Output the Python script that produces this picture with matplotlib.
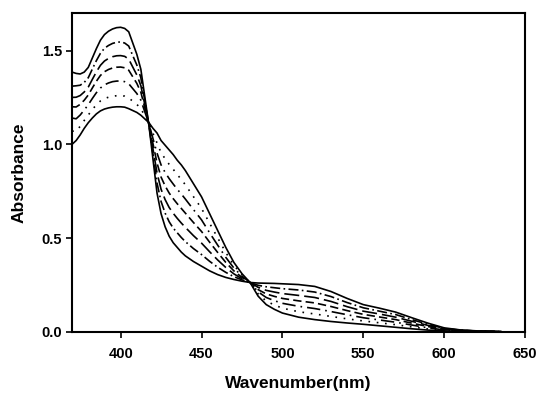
import matplotlib
matplotlib.use('Agg')
import matplotlib.pyplot as plt

# --- wavelength grid (nm)
wl = [370, 372.5, 375, 377.5, 380, 382.5, 385, 387.5, 390, 392.5, 395, 397.5,
      400, 402.5, 405, 407.5, 410, 412.5, 415, 417.5, 420, 422.5, 425, 427.5,
      430, 432.5, 435, 437.5, 440, 445, 450, 455, 460, 465, 470, 475, 480, 485,
      490, 495, 500, 510, 520, 530, 540, 550, 560, 570, 580, 590, 600, 610, 620, 635]

# --- spectra, highest Soret band first
abs_a = [1.385, 1.378, 1.375, 1.385, 1.41, 1.46, 1.51, 1.555, 1.585, 1.603, 1.615, 1.622,
         1.624, 1.618, 1.60, 1.54, 1.48, 1.40, 1.25, 1.10, 0.92, 0.74, 0.63, 0.56,
         0.51, 0.475, 0.45, 0.425, 0.405, 0.375, 0.35, 0.325, 0.305, 0.29, 0.279, 0.27, 0.263, 0.26,
         0.259, 0.258, 0.256, 0.252, 0.242, 0.215, 0.178, 0.145, 0.126, 0.105, 0.075, 0.046, 0.021, 0.010, 0.005, 0.002]
abs_b = [1.31, 1.312, 1.315, 1.33, 1.355, 1.401, 1.446, 1.485, 1.512, 1.527, 1.538, 1.544,
         1.546, 1.540, 1.524, 1.473, 1.423, 1.355, 1.229, 1.103, 0.948, 0.793, 0.695, 0.633,
         0.587, 0.553, 0.528, 0.503, 0.481, 0.444, 0.412, 0.376, 0.344, 0.317, 0.294, 0.277, 0.263, 0.248,
         0.24, 0.235, 0.23, 0.223, 0.212, 0.188, 0.156, 0.128, 0.11, 0.092, 0.065, 0.04, 0.018, 0.009, 0.004, 0.001]
abs_c = [1.25, 1.251, 1.26, 1.279, 1.305, 1.346, 1.386, 1.421, 1.444, 1.458, 1.467, 1.472,
         1.473, 1.469, 1.454, 1.412, 1.37, 1.313, 1.209, 1.105, 0.975, 0.847, 0.76, 0.705,
         0.663, 0.632, 0.605, 0.58, 0.557, 0.513, 0.473, 0.427, 0.383, 0.343, 0.309, 0.283, 0.263, 0.237,
         0.221, 0.212, 0.204, 0.194, 0.183, 0.162, 0.134, 0.11, 0.095, 0.078, 0.056, 0.034, 0.016, 0.008, 0.004, 0.001]
abs_d = [1.20, 1.199, 1.213, 1.235, 1.263, 1.30, 1.336, 1.367, 1.387, 1.399, 1.407, 1.411,
         1.412, 1.408, 1.395, 1.36, 1.325, 1.278, 1.193, 1.108, 1.003, 0.90, 0.825, 0.778,
         0.74, 0.71, 0.683, 0.658, 0.633, 0.583, 0.535, 0.478, 0.423, 0.37, 0.325, 0.29, 0.263, 0.225,
         0.202, 0.189, 0.178, 0.165, 0.154, 0.135, 0.113, 0.093, 0.079, 0.065, 0.046, 0.028, 0.013, 0.007, 0.003, 0.001]
abs_e = [1.14, 1.136, 1.156, 1.183, 1.211, 1.244, 1.275, 1.30, 1.317, 1.327, 1.334, 1.337,
         1.338, 1.334, 1.323, 1.297, 1.271, 1.235, 1.172, 1.11, 1.03, 0.953, 0.89, 0.85,
         0.817, 0.788, 0.76, 0.735, 0.708, 0.652, 0.597, 0.528, 0.462, 0.397, 0.34, 0.297, 0.263, 0.213,
         0.183, 0.166, 0.152, 0.136, 0.124, 0.108, 0.091, 0.075, 0.063, 0.051, 0.036, 0.021, 0.010, 0.005, 0.002, 0.0]
abs_f = [1.07, 1.070, 1.096, 1.127, 1.156, 1.185, 1.211, 1.231, 1.244, 1.251, 1.256, 1.259,
         1.259, 1.257, 1.247, 1.23, 1.213, 1.19, 1.151, 1.113, 1.058, 1.007, 0.955, 0.923,
         0.893, 0.867, 0.838, 0.813, 0.784, 0.721, 0.658, 0.579, 0.501, 0.423, 0.355, 0.303, 0.263, 0.202,
         0.164, 0.143, 0.126, 0.107, 0.095, 0.082, 0.069, 0.058, 0.048, 0.038, 0.026, 0.015, 0.008, 0.004, 0.002, 0.0]
abs_g = [1.0, 1.02, 1.05, 1.085, 1.115, 1.14, 1.162, 1.178, 1.188, 1.194, 1.198, 1.20,
         1.20, 1.198, 1.19, 1.18, 1.17, 1.155, 1.135, 1.115, 1.085, 1.06, 1.02, 0.995,
         0.97, 0.945, 0.915, 0.89, 0.86, 0.79, 0.72, 0.63, 0.54, 0.45, 0.37, 0.31, 0.263, 0.19,
         0.145, 0.12, 0.10, 0.078, 0.065, 0.055, 0.047, 0.04, 0.032, 0.024, 0.016, 0.009, 0.005, 0.003, 0.001, 0.0]

spectra = [abs_a, abs_b, abs_c, abs_d, abs_e, abs_f, abs_g]
styles = ['-', (0, (6, 2, 1, 2)), (0, (9, 3)), (0, (5, 2.5)),
          (0, (8, 3, 1, 3)), (0, (1, 4)), '-']

plt.rcParams['font.family'] = ['Liberation Sans', 'DejaVu Sans']

fig = plt.figure(figsize=(5.38, 3.95), dpi=100)
ax = fig.add_axes((0.134, 0.16, 0.842, 0.807))

for spec, ls in zip(spectra, styles):
    ax.plot(wl, spec, c='k', lw=1.2, ls=ls)

ax.set_xlim(370, 650)
ax.set_ylim(0, 1.7)
ax.set_xticks([400, 450, 500, 550, 600, 650])
ax.set_yticks([0.0, 0.5, 1.0, 1.5])
ax.set_yticklabels(['0.0', '0.5', '1.0', '1.5'])

for axis in ['top', 'bottom', 'left', 'right']:
    ax.spines[axis].set_linewidth(1.5)

ax.tick_params(direction='out', length=4, width=1.2, labelsize=10.5)
ax.tick_params(axis='x', pad=7)
ax.tick_params(axis='y', pad=3)
for lab in ax.get_xticklabels() + ax.get_yticklabels():
    lab.set_fontweight('bold')

ax.set_xlabel('Wavenumber(nm)', fontsize=12.5, fontweight='bold', labelpad=11)
ax.set_ylabel('Absorbance', fontsize=12.5, fontweight='bold', labelpad=11)

fig.savefig('out.png', dpi=100)
